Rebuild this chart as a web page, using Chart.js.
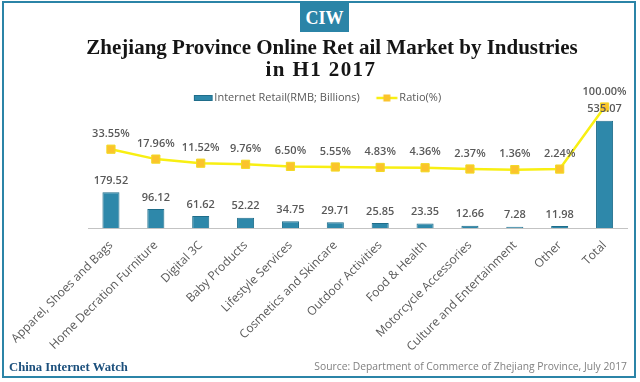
<!DOCTYPE html>
<html><head><meta charset="utf-8">
<script src="https://cdn.jsdelivr.net/npm/chart.js@4"></script>
<style>
html,body{margin:0;padding:0;background:#fff;}
#wrap{position:relative;width:640px;height:382px;overflow:hidden;background:#fff;}
#c{position:absolute;left:0;top:0;}
#frame{position:absolute;left:2px;top:1px;width:634px;height:377px;box-sizing:border-box;border:2.5px solid #2b84a7;pointer-events:none;}
#logo{position:absolute;left:300px;top:3px;width:49px;height:29px;background:#2b84a7;color:#fff;font:bold 18px "Liberation Serif",serif;text-align:center;line-height:30px;}
.t{position:absolute;width:640px;text-align:center;font:bold 21px/22px "Liberation Serif",serif;color:#151515;white-space:nowrap;}
#t1{left:12px;top:36px;}
#t2{left:1px;top:58px;letter-spacing:1.4px;}
#brand{position:absolute;left:9px;top:358px;font:bold 12.7px/18px "Liberation Serif",serif;color:#1b4f7c;}
#src{position:absolute;right:13px;top:358px;font:10.3px/16px "Open Sans",sans-serif;color:#808080;}
</style></head>
<body>
<div id="wrap">
<canvas id="c" width="640" height="382"></canvas>
<div id="logo">CIW</div>
<div class="t" id="t1">Zhejiang Province Online Ret ail Market by Industries</div>
<div class="t" id="t2">in H1 2017</div>
<div id="brand">China Internet Watch</div>
<div id="src">Source: Department of Commerce of Zhejiang Province, July 2017</div>
<div id="frame"></div>
</div>
<script>
const categories = ['Apparel, Shoes and Bags','Home Decration Furniture','Digital 3C','Baby Products','Lifestyle Services','Cosmetics and Skincare','Outdoor Activities','Food & Health','Motorcycle Accessories','Culture and Entertainment','Other','Total'];
const retailValues = [179.52, 96.12, 61.62, 52.22, 34.75, 29.71, 25.85, 23.35, 12.66, 7.28, 11.98, 535.07];
const ratioValues = [33.55, 17.96, 11.52, 9.76, 6.50, 5.55, 4.83, 4.36, 2.37, 1.36, 2.24, 100.00];
const seriesNames = ['Internet Retail(RMB; Billions)', 'Ratio(%)'];

const BAR = '#2e88aa', BAR_EDGE = '#1f6d8a', LINE = '#f8ef12', PT = '#fbc32c', PT_EDGE = '#f2da22';

function makeBarSwatch(){
  const c=document.createElement('canvas'); c.width=30; c.height=8;
  const x=c.getContext('2d');
  x.fillStyle=BAR; x.fillRect(10,1,18.5,6);
  x.strokeStyle=BAR_EDGE; x.lineWidth=1; x.strokeRect(10.5,1.5,17.5,5);
  return c;
}
function makeLineSwatch(){
  const c=document.createElement('canvas'); c.width=30; c.height=8;
  const x=c.getContext('2d');
  x.strokeStyle=LINE; x.lineWidth=2.5; x.beginPath(); x.moveTo(7.5,4); x.lineTo(28.5,4); x.stroke();
  x.fillStyle=PT; x.fillRect(14.5,0.5,7,7);
  return c;
}
const swatches=[makeBarSwatch(), makeLineSwatch()];

const valueLabels = {
  id:'valueLabels',
  afterDatasetsDraw(chart){
    const ctx=chart.ctx; ctx.save();
    ctx.font='600 11px "Open Sans"'; ctx.fillStyle='#595959';
    ctx.textAlign='center'; ctx.textBaseline='middle';
    chart.getDatasetMeta(0).data.forEach((el,i)=>ctx.fillText(retailValues[i].toFixed(2), el.x, el.y-11.5));
    chart.getDatasetMeta(1).data.forEach((el,i)=>ctx.fillText(ratioValues[i].toFixed(2)+'%', el.x, el.y-15.5));
    ctx.restore();
  }
};
const legendFix = {
  id:'legendFix',
  beforeInit(chart){
    const orig = chart.legend.fit;
    chart.legend.fit = function(){ orig.call(this); this.height = 30; };
  }
};

new Chart(document.getElementById('c'), {
  type:'bar',
  data:{
    labels: categories,
    datasets:[
      {type:'bar', label:seriesNames[0], data:retailValues, yAxisID:'y', backgroundColor:BAR, borderColor:BAR_EDGE, borderWidth:1, barPercentage:0.38, categoryPercentage:1, order:2},
      {type:'line', label:seriesNames[1], data:ratioValues, yAxisID:'y2', clip:false, borderColor:LINE, borderWidth:2.5, tension:0, pointStyle:'rect', pointRadius:5.8, pointBackgroundColor:PT, pointBorderColor:PT_EDGE, pointBorderWidth:1, order:1}
    ]
  },
  options:{
    responsive:false, animation:false, devicePixelRatio:1,
    layout:{padding:{top:78.5, left:0, right:10, bottom:0}},
    plugins:{
      tooltip:{enabled:false},
      legend:{
        position:'top', align:'center',
        labels:{
          usePointStyle:true, pointStyleWidth:20, boxHeight:8, padding:14,
          color:'#595959', font:{family:'Open Sans', size:11},
          generateLabels:(chart)=>chart.data.datasets.map((ds,i)=>({text:ds.label, pointStyle:swatches[i], fillStyle:'rgba(0,0,0,0)', strokeStyle:'rgba(0,0,0,0)', lineWidth:0, hidden:false, datasetIndex:i, fontColor:'#595959'}))
        }
      }
    },
    scales:{
      x:{
        grid:{display:false, drawTicks:false},
        border:{display:true, color:'#c3c3c3', width:1},
        ticks:{autoSkip:false, minRotation:45, maxRotation:45, padding:10, color:'#595959', font:{family:'Open Sans', size:12}},
        afterFit(s){ s.height = 382 - 228.3; }
      },
      y:{position:'left', min:0, max:596.6, ticks:{display:false}, grid:{display:false}, border:{display:false}, afterFit(s){ s.width = 86; }},
      y2:{position:'right', min:-91, max:97.64, ticks:{display:false}, grid:{display:false}, border:{display:false}, afterFit(s){ s.width = 3; }}
    }
  },
  plugins:[valueLabels, legendFix]
});
</script>
</body></html>
